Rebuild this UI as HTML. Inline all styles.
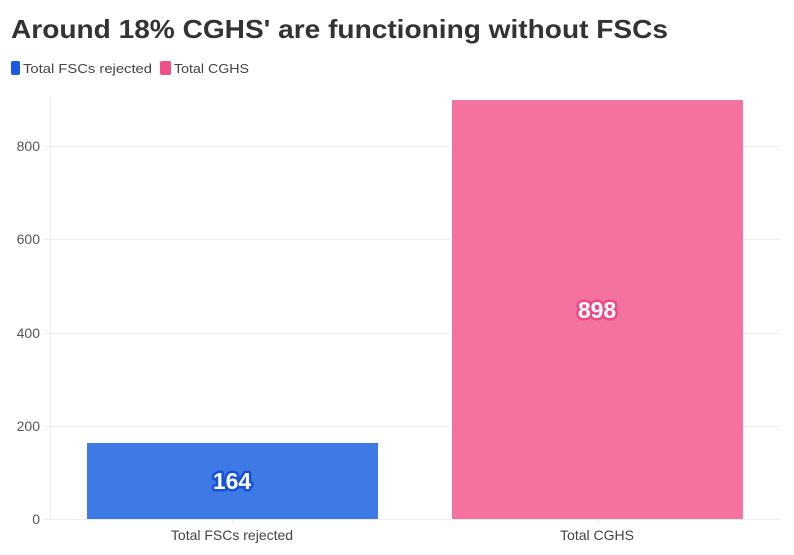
<!DOCTYPE html>
<html><head><meta charset="utf-8"><style>
html,body{margin:0;padding:0;background:#fff;}
svg{display:block;font-family:"Liberation Sans",sans-serif;}
</style></head><body>
<svg width="794" height="555" viewBox="0 0 794 555" xmlns="http://www.w3.org/2000/svg">
<text x="11" y="38" font-size="26" font-weight="bold" fill="#333" textLength="657" lengthAdjust="spacingAndGlyphs">Around 18% CGHS' are functioning without FSCs</text>
<rect x="11" y="61" width="9" height="14" rx="2" fill="#1a5ae0"/>
<text x="23" y="73" font-size="13" fill="#444" textLength="129" lengthAdjust="spacingAndGlyphs">Total FSCs rejected</text>
<rect x="160" y="61" width="11" height="14" rx="2" fill="#f0508a"/>
<text x="174" y="73" font-size="13" fill="#444" textLength="75" lengthAdjust="spacingAndGlyphs">Total CGHS</text>
<g stroke="#ececec" stroke-width="1">
<line x1="44" y1="146.5" x2="780" y2="146.5"/>
<line x1="44" y1="239.5" x2="780" y2="239.5"/>
<line x1="44" y1="333.5" x2="780" y2="333.5"/>
<line x1="44" y1="426.5" x2="780" y2="426.5"/>
<line x1="44" y1="519.5" x2="780" y2="519.5"/>
<line x1="50.5" y1="99" x2="50.5" y2="519"/>
<line x1="232.5" y1="519" x2="232.5" y2="524"/>
<line x1="597.5" y1="519" x2="597.5" y2="524"/>
</g>
<g font-size="14" fill="#555" text-anchor="end">
<text x="40" y="151">800</text>
<text x="40" y="244">600</text>
<text x="40" y="338">400</text>
<text x="40" y="431">200</text>
<text x="40" y="524">0</text>
</g>
<rect x="87" y="443" width="291" height="76" fill="#3e7ae6"/>
<rect x="452" y="100" width="291" height="419" fill="#f4729f"/>
<text x="232" y="489" font-size="23" font-weight="bold" text-anchor="middle" fill="#fff" stroke="#1552d8" stroke-width="5" paint-order="stroke" stroke-linejoin="round">164</text>
<text x="597" y="318" font-size="23" font-weight="bold" text-anchor="middle" fill="#fff" stroke="#ec4a85" stroke-width="5" paint-order="stroke" stroke-linejoin="round">898</text>
<g font-size="14" fill="#444" text-anchor="middle">
<text x="232" y="540">Total FSCs rejected</text>
<text x="597" y="540">Total CGHS</text>
</g>
</svg>
</body></html>
